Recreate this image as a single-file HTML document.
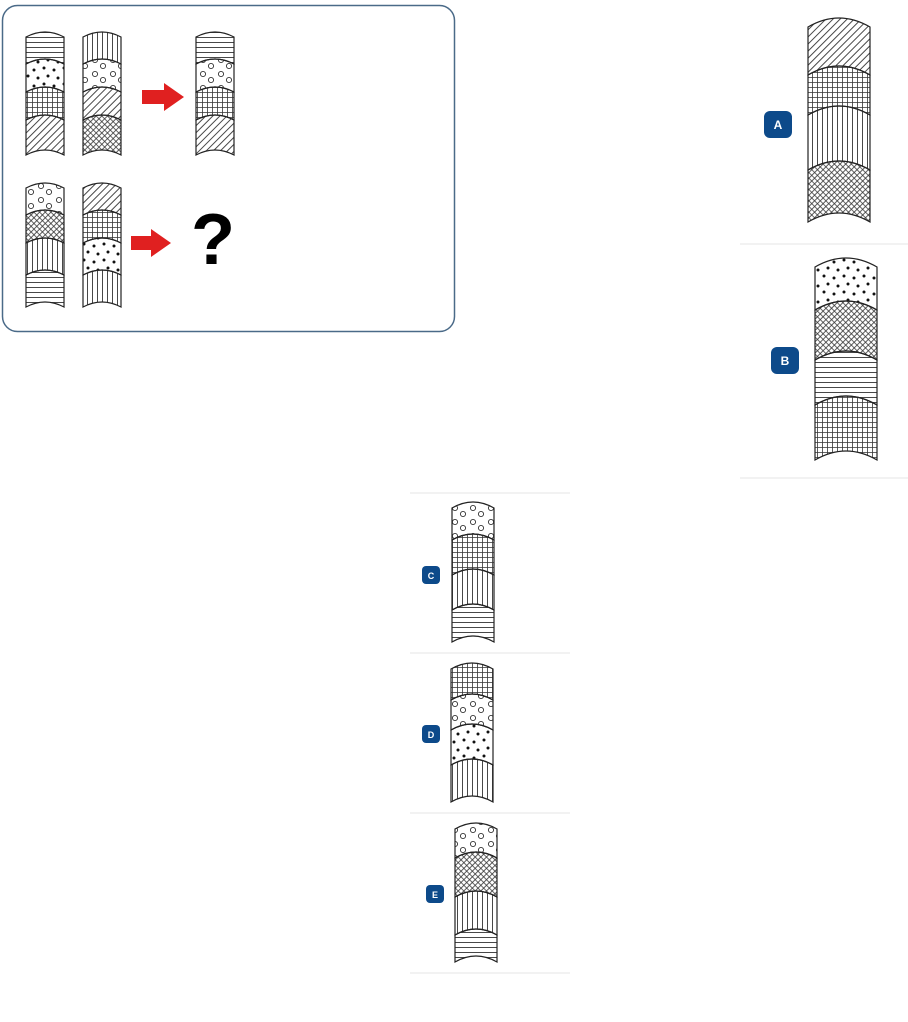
<!DOCTYPE html>
<html><head><meta charset="utf-8"><style>
html,body{margin:0;padding:0;background:#fff;width:908px;height:1022px;overflow:hidden}
svg{position:absolute;left:0;top:0}
</style></head><body>
<svg id="s" width="908" height="1022" xmlns="http://www.w3.org/2000/svg">
<defs>
<pattern id="H" width="6" height="5" patternUnits="userSpaceOnUse"><line x1="0" y1="2.5" x2="6" y2="2.5" stroke="#333" stroke-width="0.9"/></pattern>
<pattern id="V" width="5" height="6" patternUnits="userSpaceOnUse"><line x1="2.5" y1="0" x2="2.5" y2="6" stroke="#333" stroke-width="0.9"/></pattern>
<pattern id="G" width="5" height="5" patternUnits="userSpaceOnUse"><path d="M2.5 0V5M0 2.5H5" stroke="#333" stroke-width="0.8" fill="none"/></pattern>
<pattern id="S" width="5" height="5" patternUnits="userSpaceOnUse" patternTransform="rotate(45)"><line x1="2.5" y1="0" x2="2.5" y2="5" stroke="#333" stroke-width="0.9"/></pattern>
<pattern id="X" width="4" height="4" patternUnits="userSpaceOnUse" patternTransform="rotate(45)"><path d="M2 0V4M0 2H4" stroke="#333" stroke-width="0.8" fill="none"/></pattern>
<pattern id="D" width="20" height="16" patternUnits="userSpaceOnUse"><circle cx="4" cy="4" r="1.5" fill="#111"/><circle cx="14" cy="6" r="1.5" fill="#111"/><circle cx="8" cy="12" r="1.5" fill="#111"/><circle cx="18" cy="14" r="1.5" fill="#111"/></pattern>
<pattern id="O" width="18" height="14" patternUnits="userSpaceOnUse"><circle cx="5" cy="4" r="2.6" fill="none" stroke="#333" stroke-width="0.9"/><circle cx="13" cy="10" r="2.6" fill="none" stroke="#333" stroke-width="0.9"/></pattern>
</defs>
<rect x="2.5" y="5.5" width="452" height="326" rx="15" fill="#fff" stroke="#4a6a88" stroke-width="1.5"/>
<g id="cols"></g>
<path d="M142 90H164V83L184 97L164 111V104H142Z" fill="#e02020"/>
<path d="M131 236H151V229L171 243L151 257V250H131Z" fill="#e02020"/>
<text x="213" y="264" font-family="Liberation Sans, sans-serif" font-weight="bold" font-size="72" text-anchor="middle" fill="#000">?</text>
<g stroke="#eee" stroke-width="1.5">
<line x1="740" y1="244" x2="908" y2="244"/><line x1="740" y1="478" x2="908" y2="478"/>
<line x1="410" y1="493" x2="570" y2="493"/><line x1="410" y1="653" x2="570" y2="653"/><line x1="410" y1="813" x2="570" y2="813"/><line x1="410" y1="973" x2="570" y2="973"/>
</g>
<g font-family="Liberation Sans, sans-serif" font-weight="bold" fill="#fff" text-anchor="middle">
<rect x="764" y="111" width="28" height="27" rx="6" fill="#0d4a8a"/><text x="778" y="129" font-size="12">A</text>
<rect x="771" y="347" width="28" height="27" rx="6" fill="#0d4a8a"/><text x="785" y="365" font-size="12">B</text>
<rect x="422" y="566" width="18" height="18" rx="4" fill="#0d4a8a"/><text x="431" y="579" font-size="9">C</text>
<rect x="422" y="725" width="18" height="18" rx="4" fill="#0d4a8a"/><text x="431" y="738" font-size="9">D</text>
<rect x="426" y="885" width="18" height="18" rx="4" fill="#0d4a8a"/><text x="435" y="898" font-size="9">E</text>
</g>
</svg>
<script>
var cols=[
[26,64,[32,64,92,120,155],'HDGS',5],
[83,121,[32,64,92,120,155],'VOSX',5],
[196,234,[32,64,92,120,155],'HOGS',5],
[26,64,[183,215,243,275,307],'OXVH',5],
[83,121,[183,215,243,275,307],'SGDV',5],
[808,870,[18,75,115,170,222],'SGVX',9],
[815,877,[258,310,360,405,460],'DXHG',9],
[452,494,[502,540,575,610,642],'OGVH',6],
[451,493,[663,700,730,765,802],'GODV',6],
[455,497,[823,858,897,935,962],'OXVH',6]];
var h='';
cols.forEach(function(c){
var x0=c[0],x1=c[1],b=c[2].slice(),p=c[3],s=c[4],cx=(x0+x1)/2;
b[0]=b[0]+s;
for(var i=0;i<4;i++){
var t=b[i],u=b[i+1];
h+='<path d="M'+x0+' '+t+'Q'+cx+' '+(t-2*s)+' '+x1+' '+t+'L'+x1+' '+u+'Q'+cx+' '+(u-2*s)+' '+x0+' '+u+'Z" fill="url(#'+p[i]+')" stroke="#222" stroke-width="1.2"/>';
}});
document.getElementById('cols').innerHTML=h;
</script>
</body></html>
